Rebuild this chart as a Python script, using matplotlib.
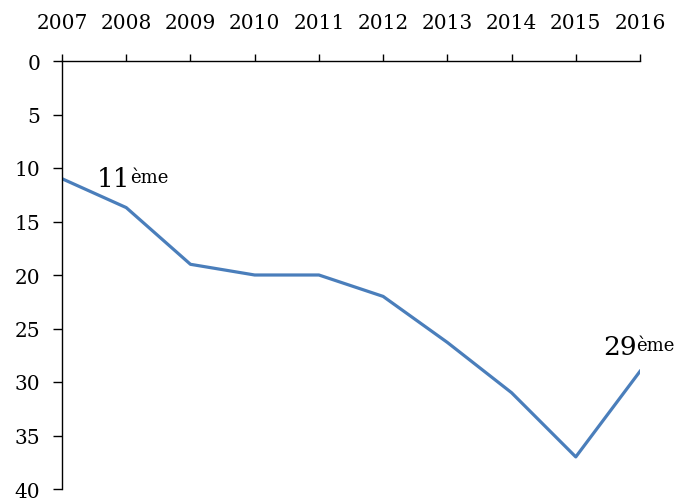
import matplotlib.pyplot as plt

years = [2007, 2008, 2009, 2010, 2011, 2012, 2013, 2014, 2015, 2016]
ranks = [11, 13.7, 19, 20, 20, 22, 26.3, 31, 37, 29]
y_ticks = [0, 5, 10, 15, 20, 25, 30, 35, 40]


def add_rank_label(ax, x, y, num):
    t = ax.text(x, y, num, fontsize=19, ha='left', va='baseline')
    ax.annotate('ème', xy=(1.0, 1.0), xycoords=t, xytext=(0, -1),
                textcoords='offset points', fontsize=13, ha='left', va='top',
                annotation_clip=False)


def plot_rank():
    plt.rcParams['font.family'] = ['DejaVu Serif']
    fig = plt.figure(figsize=(6.74, 5.02), dpi=100)
    ax = fig.add_axes([62 / 674, 1 - 490 / 502, (640 - 62) / 674, (490 - 62) / 502])

    ax.plot(years, ranks, color='#4a7ebb', lw=2.3, solid_joinstyle='round')

    ax.set_xlim(2007, 2016)
    ax.set_ylim(40, 0)
    ax.set_xticks(years)
    ax.set_yticks(y_ticks)

    ax.xaxis.tick_top()
    ax.spines['right'].set_visible(False)
    ax.spines['bottom'].set_visible(False)
    for s in ['left', 'top']:
        ax.spines[s].set_linewidth(1.0)
    ax.tick_params(axis='x', direction='out', length=5, width=1.0, pad=16, labelsize=14.5)
    ax.tick_params(axis='y', direction='out', length=6.5, width=1.0, pad=9, labelsize=14.5)

    add_rank_label(ax, 2007.54, 11.7, '11')
    add_rank_label(ax, 2015.42, 27.4, '29')

    plt.savefig('out.png', dpi=100)


if __name__ == '__main__':
    plot_rank()
